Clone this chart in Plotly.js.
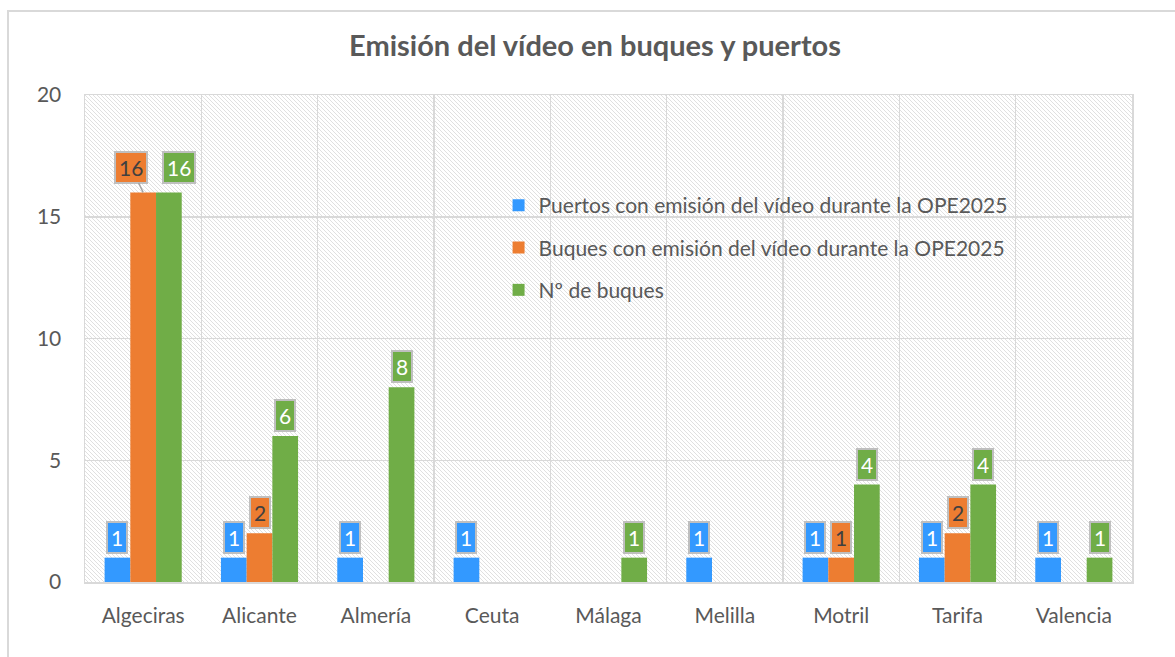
<!DOCTYPE html>
<html>
<head>
<meta charset="utf-8">
<script src="https://cdn.plot.ly/plotly-3.0.1.min.js"></script>
<style>
  html, body { margin: 0; padding: 0; background: #ffffff; }
  #wrap { position: relative; width: 1175px; height: 657px; overflow: hidden; }
  #chart { position: absolute; left: 0; top: 0; width: 1175px; height: 657px; }
  .frameL { position: absolute; left: 7px; top: 10px; width: 2px; height: 660px; background: #d9d9d9; pointer-events: none; }
  .frameT { position: absolute; left: 7px; top: 10px; width: 1200px; height: 2px; background: #d9d9d9; pointer-events: none; }
</style>
</head>
<body>
<div id="wrap">
  <div id="chart"></div>
  <div class="frameL"></div>
  <div class="frameT"></div>
</div>
<script>
// ---- Data ----
const categories = ["Algeciras", "Alicante", "Almería", "Ceuta", "Málaga", "Melilla", "Motril", "Tarifa", "Valencia"];
const puertosEmision = [1, 1, 1, 1, null, 1, 1, 1, 1];
const buquesEmision  = [16, 2, null, null, null, null, 1, 2, null];
const numBuques      = [16, 6, 8, null, 1, null, 4, 4, 1];
const seriesNames = [
  "Puertos con emisión del vídeo durante la OPE2025",
  "Buques con emisión del vídeo durante la OPE2025",
  "Nº de buques"
];
const yTicks = [0, 5, 10, 15, 20];

// ---- Style ----
const colors = ["#3399FF", "#ED7D31", "#70AD47"];
const labelText = ["#ffffff", "#404040", "#ffffff"];
const FONT = "Lato, 'Open Sans', sans-serif";
const GRAY = "#595959";
const GRID = "#d9d9d9";
const BARGAP = 0.337;
const FS = 21;

const M = { l: 85, r: 43, t: 95, b: 75 };
const W = 1175, H = 657;
const PW = W - M.l - M.r, PH = H - M.t - M.b;

const seriesValues = [puertosEmision, buquesEmision, numBuques];

const traces = seriesValues.map((vals, k) => ({
  type: "bar",
  name: seriesNames[k],
  x: categories,
  y: vals,
  marker: { color: colors[k], line: { width: 0 } },
  legendgroup: "g" + k,
  hoverinfo: "x+y+name"
}));

// label placement tweaks (Excel moved the crowded Algeciras labels)
const labelTweak = {
  "1|0": { arrow: true, ax: -12, ay: -25 },
  "2|0": { xshift: 10, yshift: 8 }
};

const annotations = [];
const slot = (1 - BARGAP) / 3;
seriesValues.forEach((vals, k) => {
  vals.forEach((v, i) => {
    if (v === null || v === undefined) return;
    const t = labelTweak[k + "|" + i] || {};
    const a = {
      x: i + (k - 1) * slot,
      y: v,
      xref: "x", yref: "y",
      text: String(v),
      font: { family: FONT, size: FS, color: labelText[k] },
      bgcolor: colors[k],
      bordercolor: "#bfbfbf",
      borderwidth: 2,
      borderpad: 3,
      height: 23
    };
    if (t.arrow) {
      a.showarrow = true;
      a.arrowhead = 0;
      a.arrowwidth = 1.5;
      a.arrowcolor = "#a6a6a6";
      a.ax = t.ax; a.ay = t.ay;
      a.standoff = 0;
    } else {
      a.showarrow = false;
      a.yanchor = "bottom";
      a.yshift = t.yshift !== undefined ? t.yshift : 4;
      a.xshift = t.xshift || 0;
    }
    annotations.push(a);
  });
});

// hatch background for the plot area
const svg = "<svg xmlns='http://www.w3.org/2000/svg' width='" + PW + "' height='" + PH + "'>" +
  "<defs><pattern id='p' width='4' height='4' patternUnits='userSpaceOnUse'>" +
  "<path d='M0,0 L4,4 M-1,3 L1,5 M3,-1 L5,1' stroke='#e0e0e0' stroke-width='1'/>" +
  "</pattern></defs><rect width='100%' height='100%' fill='url(#p)'/></svg>";
const hatch = "data:image/svg+xml;charset=utf-8," + encodeURIComponent(svg);

const layout = {
  width: W, height: H,
  margin: M,
  paper_bgcolor: "rgba(0,0,0,0)",
  plot_bgcolor: "#ffffff",
  barmode: "group",
  bargap: BARGAP,
  bargroupgap: 0,
  font: { family: FONT, color: GRAY, size: FS },
  title: {
    text: "<b>Emisión del vídeo en buques y puertos</b>",
    font: { family: FONT, size: 29, color: GRAY },
    x: (595 - M.l) / PW, xref: "paper", xanchor: "center",
    y: 1 - 46 / H, yref: "container", yanchor: "middle"
  },
  xaxis: {
    type: "category",
    tickson: "boundaries",
    showgrid: true, gridcolor: GRID, gridwidth: 1.5,
    showline: true, mirror: true, linecolor: GRID, linewidth: 1.5,
    ticks: "",
    ticklabelstandoff: 14,
    tickfont: { family: FONT, size: FS, color: GRAY },
    fixedrange: true
  },
  yaxis: {
    range: [0, 20],
    tickvals: yTicks,
    showgrid: true, gridcolor: GRID, gridwidth: 1.5,
    zeroline: false,
    showline: true, mirror: true, linecolor: GRID, linewidth: 1.5,
    ticks: "outside", ticklen: 18, tickcolor: "rgba(0,0,0,0)",
    tickfont: { family: FONT, size: FS, color: GRAY },
    fixedrange: true
  },
  legend: {
    x: 0.395, xanchor: "left",
    y: 0.815, yanchor: "top",
    bgcolor: "rgba(0,0,0,0)",
    font: { family: FONT, size: FS, color: GRAY },
    traceorder: "grouped",
    tracegroupgap: 12,
    itemwidth: 30
  },
  images: [{
    source: hatch,
    xref: "paper", yref: "paper",
    x: 0, y: 1, sizex: 1, sizey: 1,
    xanchor: "left", yanchor: "top",
    sizing: "stretch",
    layer: "below"
  }],
  annotations: annotations,
  showlegend: true
};

Plotly.newPlot("chart", traces, layout, { displayModeBar: false, staticPlot: true });
</script>
</body>
</html>
